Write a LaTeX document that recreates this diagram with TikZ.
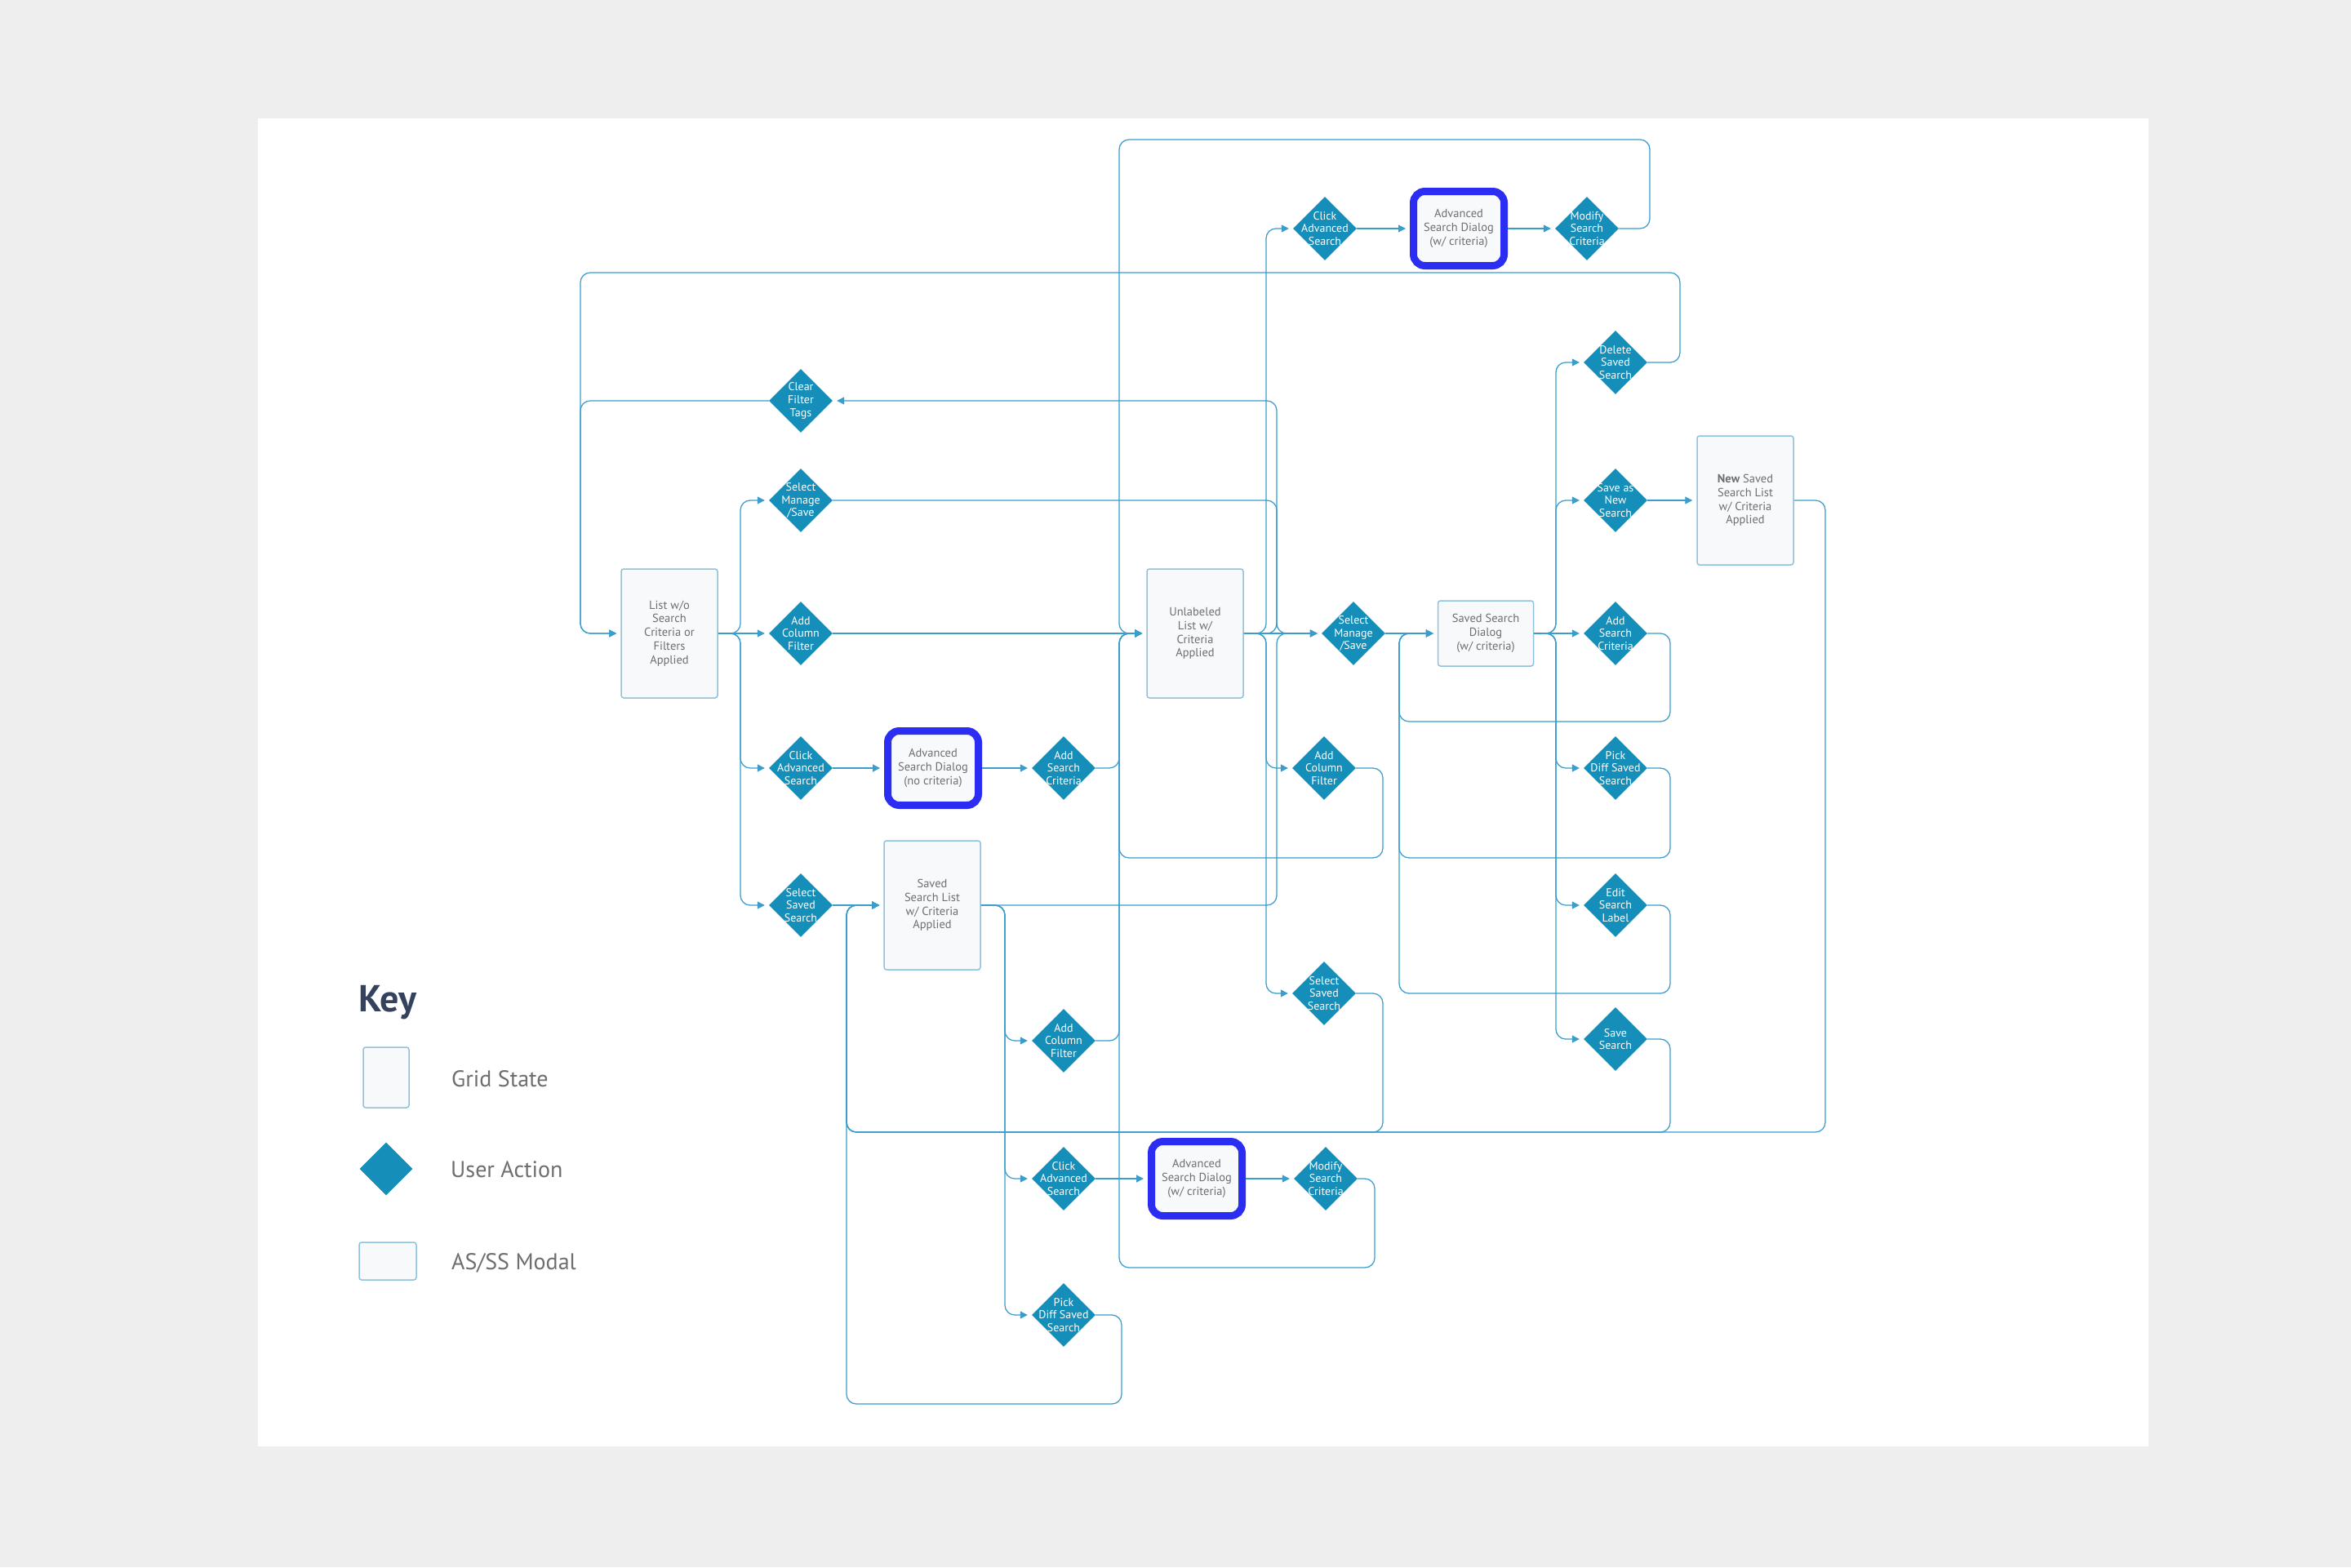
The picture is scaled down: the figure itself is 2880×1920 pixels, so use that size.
\documentclass[tikz,border=0pt]{standalone}
\usepackage{fontspec}
\setmainfont{PT Sans}
\usetikzlibrary{arrows.meta,shapes.geometric}
\definecolor{Canvas}{HTML}{EEEEEF}
\definecolor{Action}{HTML}{168EBA}
\definecolor{Flow}{HTML}{3A9DCB}
\definecolor{BoxFill}{HTML}{F7F9FB}
\definecolor{BoxLine}{HTML}{8FC3DC}
\definecolor{Modal}{HTML}{2B2EF2}
\definecolor{Ink}{HTML}{6E6E6E}
\definecolor{KeyInk}{HTML}{34425E}

\begin{document}
\begin{tikzpicture}[x=1pt,y=-1pt,every node/.style={font=\fontsize{14.5}{16.8}\selectfont,text=Ink},gridstate/.style={draw=BoxLine,fill=BoxFill,line width=1.5pt,rounded corners=3pt,align=center,minimum width=118pt,minimum height=158pt,inner sep=2pt},modalbox/.style={draw=BoxLine,fill=BoxFill,line width=1.5pt,rounded corners=3pt,align=center,minimum width=117pt,minimum height=80pt,inner sep=2pt},hilite/.style={draw=Modal,fill=BoxFill,line width=9pt,rounded corners=14pt,align=center,minimum width=111pt,minimum height=91pt,inner sep=0pt},actshape/.style={diamond,fill=Action,inner sep=0pt,minimum width=78pt,minimum height=78pt},acttext/.style={text=white,align=center,inner sep=0pt,font=\fontsize{14}{15.8}\selectfont},useract/.style={actshape,label={[acttext]center:#1}},conn/.style={draw=Flow,line width=1.25pt,rounded corners=12pt,-{Triangle[length=9pt,width=9pt]},shorten >=5pt},keylbl/.style={anchor=west,inner sep=0pt,font=\fontsize{28}{30}\selectfont}]
\useasboundingbox (0,0) rectangle (2880,1920);
\fill[Canvas] (0,0) rectangle (2880,1920);
\fill[white] (316,145) rectangle (2632,1772);
\node[gridstate] (l0) at (820,776) {List w/o\\Search\\Criteria or\\Filters\\Applied};
\node[useract={Clear\\Filter\\Tags}] (clear) at (981,491) {};
\node[useract={Select\\Manage\\/Save}] (sms1) at (981,613) {};
\node[useract={Add\\Column\\Filter}] (acf1) at (981,776) {};
\node[useract={Click\\Advanced\\Search}] (cas1) at (981,941) {};
\node[useract={Select\\Saved\\Search}] (sss1) at (981,1109) {};
\node[hilite] (asd1) at (1143,941) {Advanced\\Search Dialog\\(no criteria)};
\node[useract={Add\\Search\\Criteria}] (asc1) at (1303,941) {};
\node[gridstate] (ssl) at (1142,1109) {Saved\\Search List\\w/ Criteria\\Applied};
\node[useract={Add\\Column\\Filter}] (acf2) at (1303,1275) {};
\node[useract={Click\\Advanced\\Search}] (cas2) at (1303,1444) {};
\node[hilite] (asd3) at (1466,1444) {Advanced\\Search Dialog\\(w/ criteria)};
\node[useract={Modify\\Search\\Criteria}] (msc2) at (1624,1444) {};
\node[useract={Pick\\Diff Saved\\Search}] (pds1) at (1303,1611) {};
\node[gridstate] (ul) at (1464,776) {Unlabeled\\List w/\\Criteria\\Applied};
\node[useract={Click\\Advanced\\Search}] (cas3) at (1623,280) {};
\node[hilite] (asd2) at (1787,280) {Advanced\\Search Dialog\\(w/ criteria)};
\node[useract={Modify\\Search\\Criteria}] (msc1) at (1944,280) {};
\node[useract={Select\\Manage\\/Save}] (sms2) at (1658,776) {};
\node[useract={Add\\Column\\Filter}] (acf3) at (1622,941) {};
\node[useract={Select\\Saved\\Search}] (sss2) at (1622,1217) {};
\node[modalbox] (ssd) at (1820,776) {Saved Search\\Dialog\\(w/ criteria)};
\node[useract={Delete\\Saved\\Search}] (dss) at (1979,444) {};
\node[useract={Save as\\New\\Search}] (sans) at (1979,613) {};
\node[gridstate] (nss) at (2138,613) {\textbf{New} Saved\\Search List\\w/ Criteria\\Applied};
\node[useract={Add\\Search\\Criteria}] (asc2) at (1979,776) {};
\node[useract={Pick\\Diff Saved\\Search}] (pds2) at (1979,941) {};
\node[useract={Edit\\Search\\Label}] (esl) at (1979,1109) {};
\node[useract={Save\\Search}] (ss) at (1979,1273) {};
\draw[conn] (l0) -- (acf1);
\draw[conn] (l0.east) -- (907,776) |- (sms1);
\draw[conn] (l0.east) -- (907,776) |- (cas1);
\draw[conn] (l0.east) -- (907,776) |- (sss1);
\draw[conn] (clear) -| (711,776) -- (l0);
\draw[conn] (dss) -| (2058,334) -| (711,776) -- (l0);
\draw[conn] (sms1) -| (1564,776) -- (sms2);
\draw[conn] (acf1) -- (ul);
\draw[conn] (cas1) -- (asd1);
\draw[conn] (asd1) -- (asc1);
\draw[conn] (asc1) -| (1371,776) -- (ul);
\draw[conn] (sss1) -- (ssl);
\draw[conn] (ssl.east) -| (1564,776) -- (sms2);
\draw[conn] (ssl.east) -- (1231,1109) |- (acf2);
\draw[conn] (ssl.east) -- (1231,1109) |- (cas2);
\draw[conn] (ssl.east) -- (1231,1109) |- (pds1);
\draw[conn] (acf2) -| (1371,776) -- (ul);
\draw[conn] (cas2) -- (asd3);
\draw[conn] (asd3) -- (msc2);
\draw[conn] (msc2) -| (1684,1553) -| (1371,776) -- (ul);
\draw[conn] (pds1) -| (1374,1720) -| (1037,1109) -- (ssl);
\draw[conn] (ul) -- (sms2);
\draw[conn] (ul.east) -- (1551,776) |- (cas3);
\draw[conn] (ul.east) -- (1551,776) |- (acf3);
\draw[conn] (ul.east) -- (1551,776) |- (sss2);
\draw[conn] (ul.east) -- (1564,776) |- (clear);
\draw[conn] (cas3) -- (asd2);
\draw[conn] (asd2) -- (msc1);
\draw[conn] (msc1) -| (2021,171) -| (1371,776) -- (ul);
\draw[conn] (acf3) -| (1694,1051) -| (1371,776) -- (ul);
\draw[conn] (sss2) -| (1694,1387) -| (1037,1109) -- (ssl);
\draw[conn] (sms2) -- (ssd);
\draw[conn] (ssd) -- (asc2);
\draw[conn] (ssd.east) -- (1906,776) |- (dss);
\draw[conn] (ssd.east) -- (1906,776) |- (sans);
\draw[conn] (ssd.east) -- (1906,776) |- (pds2);
\draw[conn] (ssd.east) -- (1906,776) |- (esl);
\draw[conn] (ssd.east) -- (1906,776) |- (ss);
\draw[conn] (asc2) -| (2046,884) -| (1714,776) -- (ssd);
\draw[conn] (pds2) -| (2046,1051) -| (1714,776) -- (ssd);
\draw[conn] (esl) -| (2046,1217) -| (1714,776) -- (ssd);
\draw[conn] (ss) -| (2046,1387) -| (1037,1109) -- (ssl);
\draw[conn] (sans) -- (nss);
\draw[conn] (nss) -| (2236,1387) -| (1037,1109) -- (ssl);
\node[anchor=base west,inner sep=0pt,text=KeyInk,font=\fontsize{46}{50}\selectfont\bfseries] (keytitle) at (439,1239) {Key};
\node[gridstate,minimum width=56pt,minimum height=74pt] (keygrid) at (473,1320) {};
\node[keylbl] (keygridtxt) at (553,1322) {Grid State};
\node[actshape,minimum width=65pt,minimum height=65pt] (keyact) at (473,1432) {};
\node[keylbl] (keyacttxt) at (552,1433) {User Action};
\node[modalbox,minimum width=70pt,minimum height=46pt] (keymodal) at (475,1545) {};
\node[keylbl] (keymodaltxt) at (553,1547) {AS/SS Modal};
\end{tikzpicture}
\end{document}
